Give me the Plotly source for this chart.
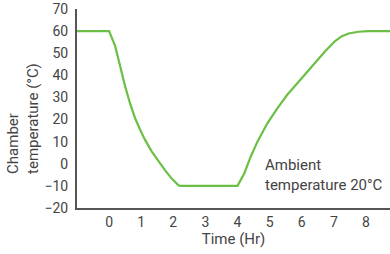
import plotly.graph_objects as go

time_hr = [-1.0, 0.0, 0.19, 0.34, 0.50, 0.65, 0.81, 0.97, 1.12, 1.33, 1.54, 1.74, 1.95, 2.16, 2.22,
           4.0, 4.21, 4.41, 4.62, 4.93, 5.24, 5.55, 5.87, 6.18, 6.45, 6.73, 7.04, 7.25, 7.46, 7.77, 8.07, 8.75]
temp_c = [60, 60, 53.2, 44.1, 35, 27.4, 20.6, 15.3, 10.8, 5.5, 0.9, -2.9, -6.7, -9.7, -10,
          -10, -4.4, 3.2, 10, 18.3, 25.1, 31.2, 36.5, 41.8, 46.4, 50.9, 55.5, 57.7, 58.9, 59.7, 60, 60]
x_ticks = [0, 1, 2, 3, 4, 5, 6, 7, 8]
y_ticks = [-20, -10, 0, 10, 20, 30, 40, 50, 60, 70]

FONT = "Roboto"
TXT = "#444444"
FS = 14
FT = 15

fig = go.Figure()
fig.add_trace(go.Scatter(
    x=time_hr, y=temp_c, mode="lines",
    line=dict(color="#6cbf45", width=2.2),
    hoverinfo="skip", showlegend=False,
))

fig.add_annotation(
    x=4.80, y=-5, xref="x", yref="y", xanchor="left", yanchor="middle",
    text="Ambient<br>temperature 20°C", showarrow=False, align="left",
    font=dict(family=FONT, size=FT, color=TXT),
)

# y-axis title, lines aligned at their start (bottom) as in the reference
fig.add_annotation(
    x=-0.171, y=0.45, xref="paper", yref="paper", xanchor="center", yanchor="middle",
    text="Chamber<br>temperature (°C)", showarrow=False, align="left", textangle=-90,
    font=dict(family=FONT, size=FT, color=TXT),
)

fig.update_layout(
    width=390, height=254,
    margin=dict(l=77, r=0, t=9, b=46),
    paper_bgcolor="white", plot_bgcolor="white",
    font=dict(family=FONT, size=FS, color=TXT),
    xaxis=dict(
        range=[-1.0, 8.75], tickvals=x_ticks, showgrid=False, zeroline=False,
        showline=True, linecolor="#555555", linewidth=2, ticks="", automargin=False,
        title=dict(text="Time (Hr)", standoff=4, font=dict(family=FONT, size=FT, color=TXT)),
        tickfont=dict(family=FONT, size=FS, color=TXT),
    ),
    yaxis=dict(
        range=[-20, 70], tickvals=y_ticks, showgrid=False, zeroline=False,
        showline=True, linecolor="#555555", linewidth=2, ticks="", automargin=False,
        tickfont=dict(family=FONT, size=FS, color=TXT),
        ticklabelstandoff=4,
    ),
)

fig.write_html("out.html", config={"displayModeBar": False, "staticPlot": True})
with open("out.html", encoding="utf-8") as f:
    html = f.read()
html = html.replace("<head>", "<head><style>html,body{margin:0;padding:0;overflow:hidden;}</style>", 1)
with open("out.html", "w", encoding="utf-8") as f:
    f.write(html)
